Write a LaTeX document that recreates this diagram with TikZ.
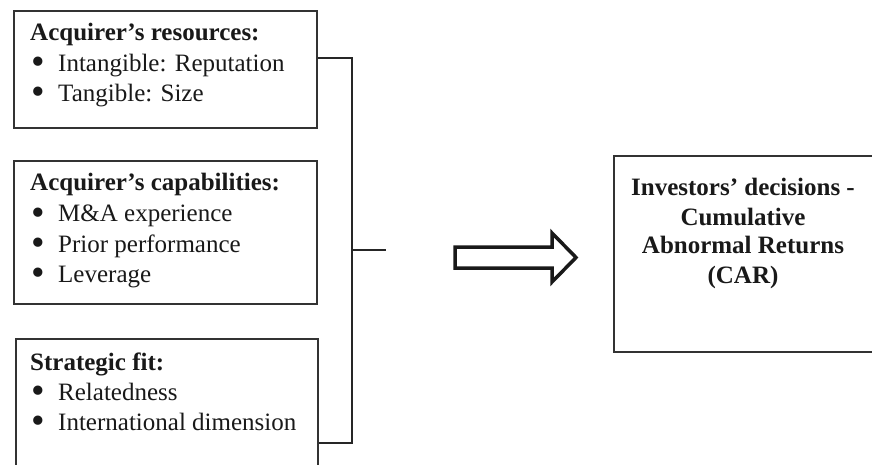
\documentclass[tikz,border=0pt]{standalone}
\usepackage{fontspec}
\usepackage{graphicx}
\setmainfont{Liberation Serif}
\tikzset{
  box/.style={draw=black!80, line width=1.6pt, anchor=north west, inner sep=0pt},
  txt/.style={anchor=base west, inner sep=0pt, font=\fontsize{25}{30}\selectfont, text=black!90},
  ctxt/.style={anchor=base, inner sep=0pt, font=\fontsize{25}{30}\selectfont\bfseries, text=black!90},
  link/.style={draw=black!85, line width=1.1pt},
  blockarrow/.style={draw=black!90, line width=3.5pt, line join=miter, fill=white}
}
\newcommand{\bul}{\makebox[27pt][l]{\smash{\raisebox{-0.12em}{\scalebox{1.55}{•}}}}}
\begin{document}
\begin{tikzpicture}[x=1pt,y=-1pt]
\useasboundingbox (0,0) rectangle (872,465);
\clip (0,0) rectangle (872,465);
\fill[white] (0,0) rectangle (872,465);

% boxes
\node[box, minimum width=303pt, minimum height=117pt] (b1) at (13,10) {};
\node[box, minimum width=303pt, minimum height=143pt] (b2) at (13,160) {};
\node[box, minimum width=302pt, minimum height=160pt] (b3) at (15,338) {};
\node[box, minimum width=290pt, minimum height=196pt] (b4) at (613,155) {};

% box 1 text
\node[txt] (t11) at (30,41) {\bfseries Acquirer’s resources:};
\node[txt] (t12) at (31,72) {\bul Intangible: Reputation};
\node[txt] (t13) at (31,102) {\bul Tangible: Size};

% box 2 text
\node[txt] (t21) at (30,190) {\bfseries Acquirer’s capabilities:};
\node[txt] (t22) at (31,222) {\bul M\&A experience};
\node[txt] (t23) at (31,252) {\bul Prior performance};
\node[txt] (t24) at (31,282) {\bul Leverage};

% box 3 text
\node[txt] (t31) at (30,370) {\bfseries Strategic fit:};
\node[txt] (t32) at (31,400) {\bul Relatedness};
\node[txt] (t33) at (31,430) {\bul International dimension};

% right box text
\node[ctxt] (t41) at (743,195) {Investors’ decisions -};
\node[ctxt] (t42) at (743,225) {Cumulative};
\node[ctxt] (t43) at (743,253) {Abnormal Returns};
\node[ctxt] (t44) at (743,283) {(CAR)};

% bracket
\coordinate (bt) at (352,58);
\coordinate (bb) at (352,443);
\coordinate (bm) at (352,250);
\coordinate (be) at (386,250);
\draw[link] (b1.east |- bt) -- (bt) -- (bb) -- (b3.east |- bb);
\draw[link] (bm) -- (be);

% block arrow
\draw[blockarrow] (455,247) -- (552,247) -- (552,233) -- (576,257.5) -- (552,282) -- (552,268) -- (455,268) -- cycle;
\end{tikzpicture}
\end{document}
